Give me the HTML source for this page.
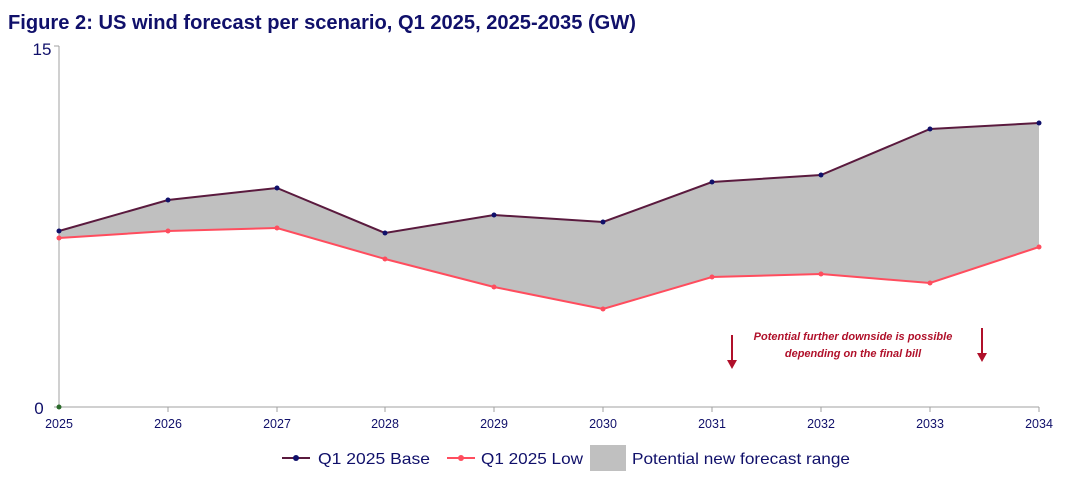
<!DOCTYPE html>
<html><head><meta charset="utf-8"><style>
html,body{margin:0;padding:0;background:#fff;}
svg{display:block;font-family:"Liberation Sans",Arial,sans-serif;}
</style></head><body>
<svg width="1084" height="478" viewBox="0 0 1084 478" xmlns="http://www.w3.org/2000/svg">
<text x="8" y="29" font-size="20" font-weight="bold" fill="#10106a" textLength="628" lengthAdjust="spacingAndGlyphs">Figure 2: US wind forecast per scenario, Q1 2025, 2025-2035 (GW)</text>
<polygon fill="#c0c0c0" points="59,231 168,200 277,188 385,233 494,215 603,222 712,182 821,175 930,129 1039,123 1039,247 930,283 821,274 712,277 603,309 494,287 385,259 277,228 168,231 59,238"/>
<line x1="59" y1="46" x2="59" y2="407" stroke="#a0a0a0" stroke-width="1"/>
<line x1="54" y1="46" x2="59" y2="46" stroke="#a0a0a0"/>
<line x1="54" y1="407" x2="1039" y2="407" stroke="#a0a0a0"/>
<g stroke="#a0a0a0"><line x1="168" y1="407" x2="168" y2="412"/><line x1="277" y1="407" x2="277" y2="412"/><line x1="385" y1="407" x2="385" y2="412"/><line x1="494" y1="407" x2="494" y2="412"/><line x1="603" y1="407" x2="603" y2="412"/><line x1="712" y1="407" x2="712" y2="412"/><line x1="821" y1="407" x2="821" y2="412"/><line x1="930" y1="407" x2="930" y2="412"/><line x1="1039" y1="407" x2="1039" y2="412"/></g>
<text x="42" y="55" font-size="17" fill="#10106a" text-anchor="middle">15</text>
<text x="39" y="414" font-size="17" fill="#10106a" text-anchor="middle">0</text>
<g font-size="12.5" fill="#10106a" text-anchor="middle">
<text x="59" y="428">2025</text><text x="168" y="428">2026</text><text x="277" y="428">2027</text><text x="385" y="428">2028</text><text x="494" y="428">2029</text><text x="603" y="428">2030</text><text x="712" y="428">2031</text><text x="821" y="428">2032</text><text x="930" y="428">2033</text><text x="1039" y="428">2034</text></g>
<circle cx="59" cy="407" r="2.5" fill="#2a6a2a"/>
<polyline fill="none" stroke="#ff4d5e" stroke-width="2" points="59,238 168,231 277,228 385,259 494,287 603,309 712,277 821,274 930,283 1039,247"/>
<g fill="#ff4d5e"><circle cx="59" cy="238" r="2.5"/><circle cx="168" cy="231" r="2.5"/><circle cx="277" cy="228" r="2.5"/><circle cx="385" cy="259" r="2.5"/><circle cx="494" cy="287" r="2.5"/><circle cx="603" cy="309" r="2.5"/><circle cx="712" cy="277" r="2.5"/><circle cx="821" cy="274" r="2.5"/><circle cx="930" cy="283" r="2.5"/><circle cx="1039" cy="247" r="2.5"/></g>
<polyline fill="none" stroke="#5a1a3e" stroke-width="2" points="59,231 168,200 277,188 385,233 494,215 603,222 712,182 821,175 930,129 1039,123"/>
<g fill="#10106a"><circle cx="59" cy="231" r="2.5"/><circle cx="168" cy="200" r="2.5"/><circle cx="277" cy="188" r="2.5"/><circle cx="385" cy="233" r="2.5"/><circle cx="494" cy="215" r="2.5"/><circle cx="603" cy="222" r="2.5"/><circle cx="712" cy="182" r="2.5"/><circle cx="821" cy="175" r="2.5"/><circle cx="930" cy="129" r="2.5"/><circle cx="1039" cy="123" r="2.5"/></g>
<g fill="#b0102a" font-size="11" font-style="italic" font-weight="bold" text-anchor="middle">
<text x="853" y="340">Potential further downside is possible</text>
<text x="853" y="357">depending on the final bill</text></g>
<g stroke="#b0102a" stroke-width="2"><line x1="732" y1="335" x2="732" y2="362"/><line x1="982" y1="328" x2="982" y2="355"/></g>
<g fill="#b0102a"><polygon points="727,360 737,360 732,369"/><polygon points="977,353 987,353 982,362"/></g>
<line x1="282" y1="458" x2="310" y2="458" stroke="#5a1a3e" stroke-width="2"/><circle cx="296" cy="458" r="3" fill="#10106a"/>
<text x="318" y="464" font-size="16" fill="#10106a" textLength="112" lengthAdjust="spacingAndGlyphs">Q1 2025 Base</text>
<line x1="447" y1="458" x2="475" y2="458" stroke="#ff4d5e" stroke-width="2"/><circle cx="461" cy="458" r="3" fill="#ff4d5e"/>
<text x="481" y="464" font-size="16" fill="#10106a" textLength="102" lengthAdjust="spacingAndGlyphs">Q1 2025 Low</text>
<rect x="590" y="445" width="36" height="26" fill="#c0c0c0"/>
<text x="632" y="464" font-size="16" fill="#10106a" textLength="218" lengthAdjust="spacingAndGlyphs">Potential new forecast range</text>
</svg>
</body></html>
